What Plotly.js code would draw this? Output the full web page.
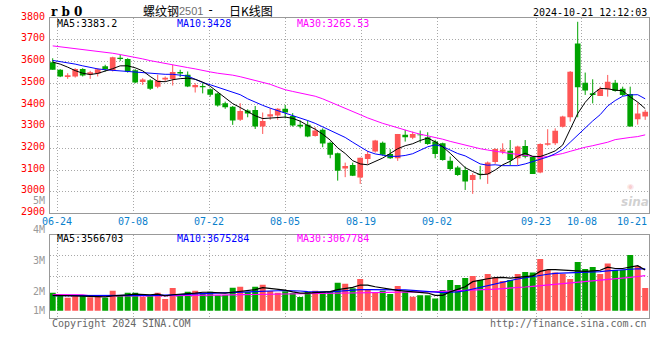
<!DOCTYPE html>
<html>
<head>
<meta charset="utf-8">
<script src="https://cdn.plot.ly/plotly-3.0.1.min.js"></script>
<style>
html,body{margin:0;padding:0;background:#fff;}
#chart{width:660px;height:360px;}
</style>
</head>
<body>
<div id="chart"></div>
<script>
// ---------- DATA ----------
const dates = ['06-21','06-24','06-25','06-26','06-27','06-28',
 '07-01','07-02','07-03','07-04','07-05','07-08','07-09','07-10','07-11','07-12',
 '07-15','07-16','07-17','07-18','07-19','07-22','07-23','07-24','07-25','07-26',
 '07-29','07-30','07-31','08-01','08-02','08-05','08-06','08-07','08-08','08-09',
 '08-12','08-13','08-14','08-15','08-16','08-19','08-20','08-21','08-22','08-23',
 '08-26','08-27','08-28','08-29','08-30','09-02','09-03','09-04','09-05','09-06',
 '09-09','09-10','09-11','09-12','09-13','09-18','09-19','09-20','09-23','09-24',
 '09-25','09-26','09-27','09-30','10-08','10-09','10-10','10-11','10-14','10-15',
 '10-16','10-17','10-18','10-21'];

const open = [3597,3562,3528,3531,3565,3540,3545,3578,3560,3617,
 3611,3560,3505,3514,3484,3517,3519,3552,3539,3481,
 3487,3472,3452,3408,3392,3331,3374,3377,3300,3346,
 3351,3382,3349,3308,3308,3257,3285,3226,3177,3107,
 3123,3065,3151,3185,3226,3174,3154,3262,3249,3263,
 3251,3231,3223,3143,3111,3100,3054,3083,3080,3137,
 3184,3189,3154,3211,3161,3088,3216,3223,3299,3343,
 3683,3502,3454,3441,3472,3502,3474,3450,3334,3346];
const high = [3615,3565,3546,3569,3569,3557,3569,3585,3622,3631,
 3615,3565,3523,3519,3539,3531,3585,3562,3554,3500,
 3500,3476,3456,3415,3395,3408,3380,3395,3365,3385,
 3385,3400,3362,3328,3328,3297,3292,3231,3180,3134,
 3134,3157,3188,3239,3231,3196,3266,3285,3277,3282,
 3274,3239,3226,3162,3119,3116,3085,3119,3139,3200,
 3223,3238,3212,3238,3164,3223,3288,3292,3350,3556,
 3783,3549,3518,3484,3538,3515,3484,3484,3411,3377];
const low = [3562,3528,3520,3526,3531,3520,3531,3554,3554,3603,
 3549,3500,3492,3469,3477,3508,3489,3528,3482,3457,
 3453,3438,3392,3382,3308,3326,3343,3289,3266,3331,
 3331,3338,3300,3292,3251,3254,3205,3154,3051,3067,
 3072,3036,3128,3180,3166,3151,3142,3231,3242,3226,
 3216,3154,3143,3097,3073,3008,2990,3057,3036,3128,
 3173,3123,3123,3154,3082,3085,3212,3215,3296,3323,
 3343,3446,3407,3441,3438,3461,3441,3300,3309,3331];
const close = [3562,3531,3537,3565,3536,3550,3564,3564,3620,3612,
 3554,3503,3517,3474,3513,3525,3552,3545,3485,3492,
 3481,3447,3397,3389,3328,3372,3360,3300,3326,3357,
 3382,3365,3305,3300,3254,3282,3222,3170,3097,3119,
 3074,3157,3174,3236,3170,3154,3266,3251,3266,3260,
 3220,3174,3146,3105,3077,3047,3077,3078,3134,3197,
 3195,3146,3208,3161,3082,3220,3223,3281,3346,3553,
 3481,3466,3446,3472,3507,3464,3446,3300,3360,3369];

const ma5 = [3597,3588,3574,3558,3546,3540,3545,3555,3567,3580,
 3580,3571,3557,3531,3508,3507,3516,3521,3523,3518,
 3505,3486,3459,3435,3406,3388,3370,3350,3337,3340,
 3342,3344,3338,3325,3305,3288,3265,3238,3202,3176,
 3143,3128,3124,3140,3155,3176,3198,3212,3221,3236,
 3247,3230,3207,3177,3145,3111,3093,3078,3081,3100,
 3124,3140,3163,3177,3163,3162,3174,3188,3215,3290,
 3360,3412,3450,3476,3474,3468,3465,3437,3413,3383];
const ma10 = [3605,3600,3595,3588,3580,3572,3566,3562,3559,3557,
 3555,3551,3547,3544,3542,3541,3541,3538,3533,3518,
 3503,3493,3482,3470,3458,3447,3428,3412,3398,3385,
 3374,3364,3353,3342,3328,3315,3298,3282,3266,3250,
 3228,3205,3186,3174,3167,3163,3163,3167,3175,3190,
 3207,3216,3208,3192,3176,3165,3147,3128,3122,3124,
 3120,3119,3120,3128,3138,3150,3160,3175,3195,3228,
 3262,3296,3326,3355,3395,3420,3440,3446,3447,3428];
const ma30 = [3672,3668,3664,3660,3656,3652,3648,3643,3638,3632,
 3626,3620,3612,3604,3597,3591,3585,3578,3572,3566,
 3558,3552,3546,3542,3537,3530,3522,3514,3505,3495,
 3482,3470,3462,3455,3448,3440,3428,3414,3400,3385,
 3370,3355,3340,3326,3315,3305,3294,3284,3274,3265,
 3258,3250,3242,3232,3223,3214,3205,3198,3192,3186,
 3180,3176,3172,3168,3162,3158,3162,3168,3176,3186,
 3197,3205,3212,3220,3228,3240,3246,3250,3254,3262];

// volume, in millions (M)
const volume = [1.58,1.35,1.14,1.35,1.26,1.17,1.29,1.14,1.75,1.35,
 1.58,1.58,1.23,1.35,1.58,1.02,1.99,1.29,1.67,1.75,
 1.58,1.67,1.35,1.38,2.02,2.11,1.64,2.11,2.28,1.73,
 1.58,1.70,1.56,1.20,1.64,1.75,1.67,1.67,2.46,2.37,
 1.96,2.78,1.82,1.58,1.75,1.46,2.16,1.67,1.23,1.35,
 1.35,1.06,1.82,2.70,2.26,2.87,3.04,2.70,3.22,2.93,
 2.61,2.70,3.22,3.39,3.34,4.54,3.57,3.34,3.22,2.78,
 4.27,3.66,3.83,3.22,4.13,3.57,3.57,4.89,3.92,1.99];
const volMa5 = [1.35,1.35,1.33,1.30,1.28,1.25,1.22,1.22,1.30,1.32,
 1.38,1.45,1.42,1.40,1.45,1.30,1.40,1.42,1.50,1.55,
 1.62,1.62,1.60,1.55,1.62,1.70,1.75,1.85,2.03,1.95,
 1.85,1.80,1.65,1.55,1.55,1.58,1.60,1.68,1.85,1.95,
 2.05,2.25,2.25,2.10,1.98,1.88,1.78,1.72,1.68,1.58,
 1.55,1.35,1.35,1.65,1.85,2.10,2.55,2.70,2.80,2.90,
 2.92,2.85,2.90,2.95,3.05,3.45,3.60,3.60,3.55,3.50,
 3.50,3.45,3.50,3.55,3.82,3.70,3.70,3.85,3.95,3.57];
const volMa10 = [1.33,1.33,1.32,1.31,1.30,1.30,1.29,1.28,1.29,1.30,
 1.32,1.33,1.33,1.34,1.35,1.36,1.40,1.40,1.44,1.47,
 1.50,1.53,1.53,1.53,1.58,1.62,1.62,1.68,1.72,1.74,
 1.75,1.76,1.76,1.73,1.68,1.65,1.65,1.66,1.72,1.78,
 1.80,1.85,1.85,1.85,1.85,1.85,1.85,1.82,1.78,1.72,
 1.65,1.58,1.58,1.62,1.65,1.75,1.90,2.05,2.20,2.40,
 2.55,2.65,2.78,2.90,3.00,3.10,3.20,3.28,3.30,3.32,
 3.38,3.38,3.40,3.42,3.50,3.55,3.58,3.62,3.68,3.675];
const volMa30 = [1.41,1.41,1.41,1.41,1.40,1.31,1.30,1.30,1.29,1.29,
 1.29,1.29,1.30,1.30,1.30,1.30,1.31,1.32,1.33,1.34,
 1.35,1.36,1.37,1.38,1.39,1.40,1.41,1.42,1.43,1.44,
 1.45,1.46,1.47,1.48,1.49,1.50,1.50,1.48,1.50,1.52,
 1.53,1.55,1.56,1.58,1.59,1.60,1.62,1.63,1.64,1.65,
 1.67,1.68,1.70,1.72,1.73,1.75,1.79,1.83,1.87,1.90,
 1.93,1.96,2.02,2.08,2.14,2.20,2.26,2.32,2.38,2.43,
 2.49,2.54,2.60,2.65,2.70,2.75,2.82,2.93,3.00,3.068];

const priceTicks = [3800,3700,3600,3500,3400,3300,3200,3100,3000,2900];
const volTickLabels = ['5M','4M','3M','2M','1M'];
const dateTicks = ['06-24','07-08','07-22','08-05','08-19','09-02','09-23','10-08','10-21'];
const priceMaLabels = ['MA5:3383.2','MA10:3428','MA30:3265.53'];
const volMaLabels = ['MA5:3566703','MA10:3675284','MA30:3067784'];

// ---------- LAYOUT GEOMETRY ----------
const W = 660, H = 360;
const PX = v => v / W, PY = v => 1 - v / H;
const L = 50, R = 649;
const pTop = 18.1, pBot = 213.4;
const vTop = 234.7, vBot = 317.7;
const c0 = 52.7, step = 7.5;           // pixel of first candle, spacing
const xRange = [(L - c0) / step, (R - c0) / step];
const vZero = 310.7, vScale = 11.4;    // px per M
const vRange = [-(vBot - vZero) / vScale, (vZero - vTop) / vScale];

const RED = '#ff5656', GREEN = '#00a300';
const MONO = 'DejaVu Sans Mono';
const TICKBLUE = '#0a80cc';

const idx = dates.map((d, i) => i);
const up = idx.map(i => close[i] >= open[i]);

// grid positions for date labels
const gridX = dateTicks.map(d => {
  const k = dates.indexOf(d);
  return (57.2 + 7.6 * (k - 1) - c0) / step;
});

function wicks(sel) {
  const xs = [], ys = [];
  idx.forEach(i => { if (up[i] === sel) { xs.push(i, i, null); ys.push(low[i], high[i], null); } });
  return {xs, ys};
}
const wu = wicks(true), wd = wicks(false);

const traces = [
  {type:'scatter', mode:'lines', x:wu.xs, y:wu.ys, line:{color:RED, width:1}, hoverinfo:'skip', xaxis:'x', yaxis:'y'},
  {type:'scatter', mode:'lines', x:wd.xs, y:wd.ys, line:{color:GREEN, width:1}, hoverinfo:'skip', xaxis:'x', yaxis:'y'},
  {type:'bar', x:idx, base:idx.map(i => Math.min(open[i], close[i])),
   y:idx.map(i => Math.max(Math.abs(close[i] - open[i]), 4)), width:0.76,
   marker:{color:idx.map(i => up[i] ? RED : GREEN), line:{width:0}}, hoverinfo:'skip', xaxis:'x', yaxis:'y'},
  {type:'scatter', mode:'lines', x:idx, y:ma30, line:{color:'#ff00ff', width:1}, xaxis:'x', yaxis:'y'},
  {type:'scatter', mode:'lines', x:idx, y:ma10, line:{color:'#0000ff', width:1}, xaxis:'x', yaxis:'y'},
  {type:'scatter', mode:'lines', x:idx, y:ma5, line:{color:'#000000', width:1}, xaxis:'x', yaxis:'y'},
  {type:'bar', x:idx, y:volume, width:0.8,
   marker:{color:idx.map(i => up[i] ? RED : GREEN), line:{width:0}}, hoverinfo:'skip', xaxis:'x2', yaxis:'y2'},
  {type:'scatter', mode:'lines', x:idx, y:volMa30, line:{color:'#ff00ff', width:1.2}, xaxis:'x2', yaxis:'y2'},
  {type:'scatter', mode:'lines', x:idx, y:volMa10, line:{color:'#0000ff', width:1.2}, xaxis:'x2', yaxis:'y2'},
  {type:'scatter', mode:'lines', x:idx, y:volMa5, line:{color:'#000000', width:1.2}, xaxis:'x2', yaxis:'y2'}
];

const gridStyle = {showgrid:true, gridcolor:'#a8a8a8', griddash:'1px,2px', gridwidth:1,
  zeroline:false, showline:true, mirror:true, linecolor:'#999', linewidth:1,
  ticks:'', showticklabels:false, fixedrange:true};

const volGrid = [255.4, 276.2, 296.9].map(p => (vZero - p) / vScale);

const ann = [];
function txt(text, x, y, opts) {
  ann.push(Object.assign({text, x:PX(x), y:PY(y), xref:'paper', yref:'paper', showarrow:false,
    xanchor:'left', yanchor:'middle', font:{family:MONO, size:10, color:'#000'}}, opts || {}));
}
// price tick labels
priceTicks.forEach(p => ann.push({text:String(p), xref:'paper', x:PX(47), xanchor:'right',
  yref:'y', y:p, yanchor:'middle', yshift:1.8, showarrow:false, font:{family:MONO, size:10, color:'#ff0000'}}));
// volume labels (Sina places them oddly)
const volLabelY = [200.7, 229.3, 260.3, 291, 310.7];
volTickLabels.forEach((t, k) => txt(t, 47, volLabelY[k], {xanchor:'right', font:{family:MONO, size:10, color:'#999'}}));
// date labels
dateTicks.forEach((d, k) => {
  if (k === dateTicks.length - 1) {
    txt(d, 648.5, 221.7, {xanchor:'right', font:{family:MONO, size:10, color:TICKBLUE}});
  } else {
    ann.push({text:d, xref:'x', x:gridX[k], yref:'paper', y:PY(221.7), xanchor:'center', yanchor:'middle',
      showarrow:false, font:{family:MONO, size:10, color:TICKBLUE}});
  }
});
// header
txt('r b 0', 49, 12, {font:{family:'DejaVu Serif', size:12, color:'#000', weight:'bold'}});
txt('螺纹钢', 140.5, 10, {font:{family:'Noto Sans CJK SC', size:12, color:'#000'}});
txt('2501', 176.7, 10.5, {font:{family:'Liberation Sans', size:11, color:'#707070'}});
txt('-', 210, 10, {xanchor:'center', font:{family:MONO, size:12, color:'#000'}});
txt('日K线图', 226.5, 10, {font:{family:'Noto Sans CJK SC', size:12, color:'#000'}});
txt('2024-10-21 12:12:03', 649, 12.3, {xanchor:'right'});
// MA legends
const maColors = ['#000000', '#0000ff', '#ff00ff'];
const maX = [55, 175, 295];
priceMaLabels.forEach((t, k) => txt(t, maX[k], 24, {font:{family:MONO, size:10, color:maColors[k]}}));
volMaLabels.forEach((t, k) => txt(t, maX[k], 238.3, {font:{family:MONO, size:10, color:maColors[k]}}));
// footer
txt('Copyright 2024 SINA.COM', 50, 323.3, {font:{family:MONO, size:10, color:'#666'}});
txt('http://finance.sina.com.cn', 649.3, 323.3, {xanchor:'right', font:{family:MONO, size:10, color:'#666'}});
// watermark
txt('◉', 630, 186.5, {xanchor:'center', font:{family:'DejaVu Sans', size:8, color:'rgba(235,120,120,0.35)'}});
txt('<b><i>sina</i></b>', 635, 201.5, {xanchor:'center', font:{family:'DejaVu Sans', size:12, color:'rgba(170,170,170,0.55)'}});

const layout = {
  width:W, height:H, margin:{l:0, r:0, t:0, b:0},
  paper_bgcolor:'#fff', plot_bgcolor:'#fff', showlegend:false,
  xaxis:Object.assign({}, gridStyle, {domain:[PX(L), PX(R)], range:xRange, anchor:'y', tickmode:'array', tickvals:gridX}),
  yaxis:Object.assign({}, gridStyle, {domain:[PY(pBot), PY(pTop)], range:[2900, 3800], anchor:'x',
    tickmode:'array', tickvals:[3000,3100,3200,3300,3400,3500,3600,3700]}),
  xaxis2:Object.assign({}, gridStyle, {domain:[PX(L), PX(R)], range:xRange, anchor:'y2', tickmode:'array', tickvals:gridX}),
  yaxis2:Object.assign({}, gridStyle, {domain:[PY(vBot), PY(vTop)], range:vRange, anchor:'x2',
    tickmode:'array', tickvals:volGrid}),
  annotations:ann,
  barmode:'overlay'
};

Plotly.newPlot('chart', traces, layout, {staticPlot:true, displayModeBar:false});
</script>
</body>
</html>
